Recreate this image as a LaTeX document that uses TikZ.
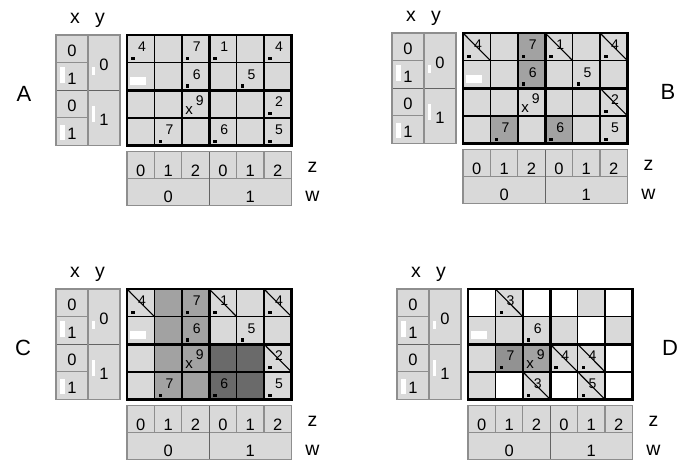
\documentclass[tikz,border=0pt]{standalone}
\usepackage{fontspec}
\setmainfont{Liberation Sans}
\definecolor{kcell}{HTML}{D9D9D9}
\definecolor{kline}{HTML}{8E8E8E}
\definecolor{kmid}{HTML}{A2A2A2}
\definecolor{kmidd}{HTML}{929292}
\definecolor{kdark}{HTML}{6A6A6A}
\newcommand{\kcw}{27.4}
\newcommand{\kch}{27.6}
\tikzset{
  kthin/.style={draw=black,line width=1.5pt},
  kthick/.style={draw=black,line width=2.8pt},
  kbox/.style={draw=kline,line width=1.3pt},
  kslash/.style={draw=black,line width=1.1pt},
  kdigit/.style={inner sep=0pt,font=\fontsize{16.5}{16.5}\selectfont},
  knum/.style={inner sep=0pt,font=\fontsize{14}{14}\selectfont},
  kcross/.style={inner sep=0pt,font=\fontsize{15}{15}\selectfont},
  klabel/.style={inner sep=0pt,anchor=base,font=\fontsize{19.5}{19.5}\selectfont},
  kletter/.style={inner sep=0pt,anchor=base,font=\fontsize{22}{22}\selectfont}
}
% boxes for x,y and z,w, their labels and the panel letter
\newcommand{\kmapbase}[3]{%
  \fill[kcell] (-71,0) rectangle (-7,{4*\kch});
  \fill[white] (-67,{\kch+4}) rectangle (-62,{\kch+20});
  \fill[white] (-67,{3*\kch+7}) rectangle (-62,{3*\kch+22});
  \fill[white] (-35,{\kch+4}) rectangle (-32,{\kch+12});
  \fill[white] (-35,{2*\kch+16}) rectangle (-32,{3*\kch+4});
  \foreach \r in {1,3} \draw[kbox] (-71,{\r*\kch}) -- (-39,{\r*\kch});
  \draw[kbox,draw=kline!70!black] (-71,{2*\kch}) -- (-7,{2*\kch});
  \draw[kbox] (-39,0) -- (-39,{4*\kch});
  \draw[kbox] (-71,0) rectangle (-7,{4*\kch});
  \foreach \v [count=\r from 0] in {0,1,0,1}
    \node[kdigit] (#1x\r) at (-55,{(\r+0.5)*\kch+2}) {\v};
  \node[kdigit] (#1y0) at (-23,{\kch+2}) {0};
  \node[kdigit] (#1y1) at (-23,{3*\kch+2}) {1};
  \fill[kcell] (0,{4*\kch+6}) rectangle ({6*\kcw},{4*\kch+60});
  \foreach \c in {1,2,4,5} \draw[kbox] ({\c*\kcw},{4*\kch+6}) -- ++(0,27);
  \draw[kbox] (0,{4*\kch+33}) -- ({6*\kcw},{4*\kch+33});
  \draw[kbox,draw=kline!70!black] ({3*\kcw},{4*\kch+6}) -- ++(0,54);
  \draw[kbox] (0,{4*\kch+6}) rectangle ({6*\kcw},{4*\kch+60});
  \foreach \v [count=\c from 0] in {0,1,2,0,1,2}
    \node[kdigit] (#1z\c) at ({(\c+0.5)*\kcw},{4*\kch+25}) {\v};
  \node[kdigit] (#1w0) at ({1.5*\kcw},{4*\kch+51}) {0};
  \node[kdigit] (#1w1) at ({4.5*\kcw},{4*\kch+51}) {1};
  \node[klabel] (#1xl) at (-52,-12) {x};
  \node[klabel] (#1yl) at (-27,-12) {y};
  \node[klabel] (#1zl) at ({6*\kcw+21},{4*\kch+27}) {z};
  \node[klabel] (#1wl) at ({6*\kcw+21},{4*\kch+56}) {w};
  \node[kletter] (#1lt) at (#3,66) {#2};
  \fill[kcell] (0,0) rectangle ({6*\kcw},{4*\kch});
}
\newcommand{\kshade}[3]{%
  \fill[#3] ({#2*\kcw},{#1*\kch}) rectangle ++(\kcw,\kch);
}
\newcommand{\kmapgrid}{%
  \fill[white] (3,{\kch+14}) rectangle ++(16,8);
  \foreach \c in {1,2,4,5} \draw[kthin] ({\c*\kcw},0) -- ++(0,{4*\kch});
  \foreach \r in {1,3} \draw[kthin] (0,{\r*\kch}) -- ++({6*\kcw},0);
  \draw[kthick] ({3*\kcw},0) -- ++(0,{4*\kch});
  \draw[kthick] (0,{2*\kch}) -- ++({6*\kcw},0);
  \draw[kthick] (0,0) rectangle ({6*\kcw},{4*\kch});
}
\newcommand{\kval}[4]{%
  \fill ({#3*\kcw+4.2},{(#2+1)*\kch-5.8}) rectangle ++(3.4,3.4);
  \node[knum] (#1n#2#3) at ({#3*\kcw+15},{#2*\kch+11.7}) {#4};
}
\newcommand{\kcrossval}[4]{%
  \node[kcross] (#1c#2#3) at ({#3*\kcw+7.3},{#2*\kch+20.3}) {x};
  \node[knum] (#1n#2#3) at ({#3*\kcw+18},{#2*\kch+10.2}) {#4};
}
\newcommand{\kslashcell}[2]{%
  \draw[kslash] ({#2*\kcw},{#1*\kch}) -- ++(\kcw,\kch);
}
\newcommand{\kstdvalues}[1]{%
  \kval{#1}{0}{0}{4}\kval{#1}{0}{2}{7}\kval{#1}{0}{3}{1}\kval{#1}{0}{5}{4}
  \kval{#1}{1}{2}{6}\kval{#1}{1}{4}{5}\kval{#1}{2}{5}{2}
  \kval{#1}{3}{1}{7}\kval{#1}{3}{3}{6}\kval{#1}{3}{5}{5}
  \kcrossval{#1}{2}{2}{9}
}

\begin{document}
\begin{tikzpicture}[x=1pt,y=-1pt]
  \fill[white] (0,0) rectangle (677,461);
  \useasboundingbox (0,0) rectangle (677,461);

  % A
  \begin{scope}[shift={(127,35)}]
    \kmapbase{a}{A}{-103}
    \kmapgrid
    \kstdvalues{a}
  \end{scope}

  % B
  \begin{scope}[shift={(463,33)}]
    \kmapbase{b}{B}{205}
    \kshade{0}{2}{kmid}\kshade{1}{2}{kmid}\kshade{3}{1}{kmid}\kshade{3}{3}{kmid}
    \kmapgrid
    \kstdvalues{b}
    \kslashcell{0}{0}\kslashcell{0}{3}\kslashcell{0}{5}\kslashcell{2}{5}
  \end{scope}

  % C
  \begin{scope}[shift={(127,289)}]
    \kmapbase{c}{C}{-104}
    \foreach \r in {0,...,3} {\kshade{\r}{1}{kmid}\kshade{\r}{2}{kmid}}
    \kshade{2}{3}{kdark}\kshade{2}{4}{kdark}\kshade{3}{3}{kdark}\kshade{3}{4}{kdark}
    \kmapgrid
    \kstdvalues{c}
    \kslashcell{0}{0}\kslashcell{0}{3}\kslashcell{0}{5}\kslashcell{2}{5}
  \end{scope}

  % D
  \begin{scope}[shift={(468,289)}]
    \kmapbase{d}{D}{202}
    \kshade{0}{0}{white}\kshade{0}{2}{white}\kshade{0}{3}{white}\kshade{0}{5}{white}
    \kshade{1}{4}{white}\kshade{2}{5}{white}
    \kshade{3}{1}{white}\kshade{3}{3}{white}\kshade{3}{5}{white}
    \kshade{2}{1}{kmidd}\kshade{2}{2}{kmid}
    \kmapgrid
    \kval{d}{0}{1}{3}\kval{d}{1}{2}{6}\kval{d}{2}{1}{7}
    \kval{d}{2}{3}{4}\kval{d}{2}{4}{4}\kval{d}{3}{2}{3}\kval{d}{3}{4}{5}
    \kcrossval{d}{2}{2}{9}
    \kslashcell{0}{1}\kslashcell{2}{3}\kslashcell{2}{4}\kslashcell{3}{2}\kslashcell{3}{4}
  \end{scope}
\end{tikzpicture}
\end{document}
